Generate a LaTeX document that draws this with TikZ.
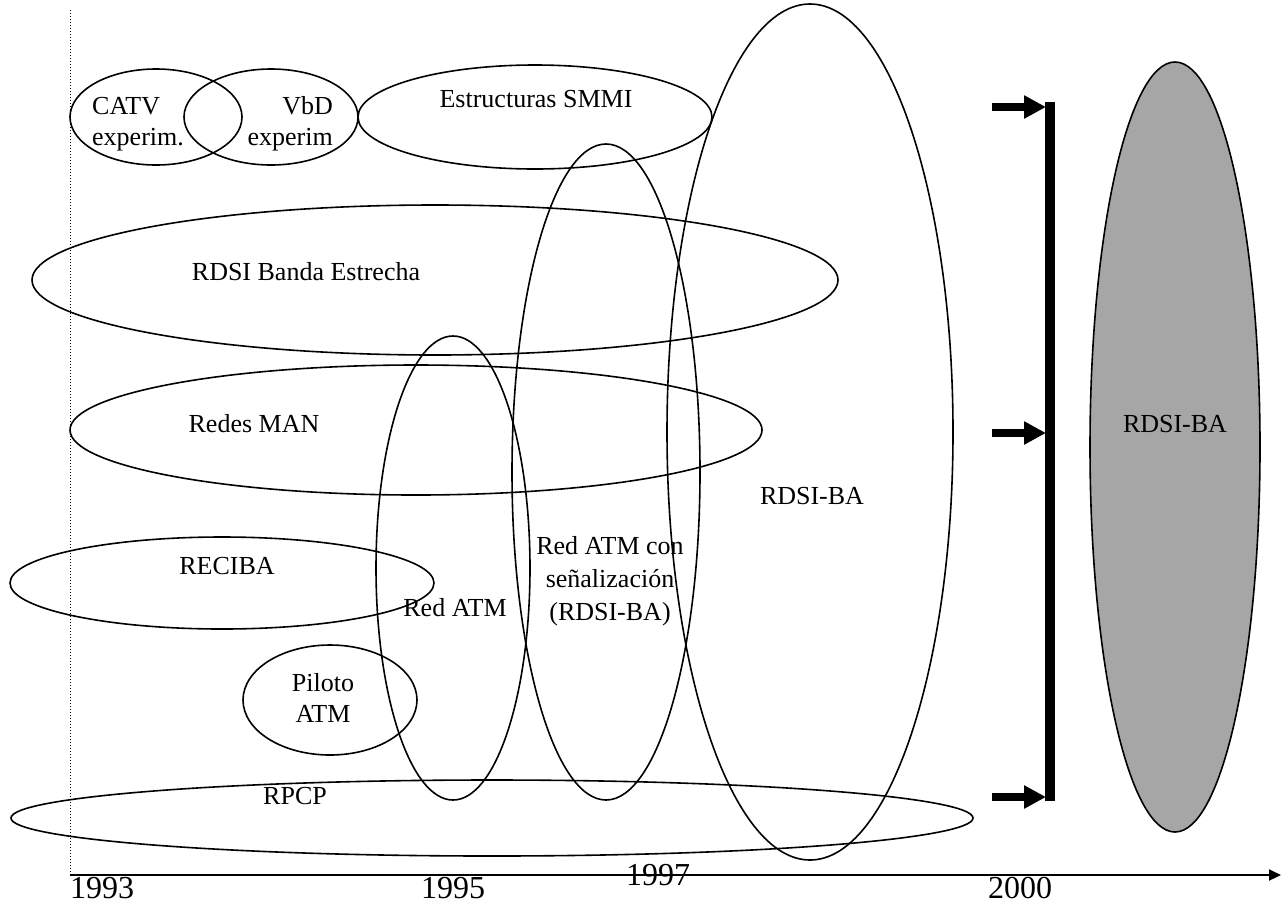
\documentclass[tikz,border=0pt]{standalone}
\usepackage{fontspec}
\setmainfont{Liberation Serif}
\usetikzlibrary{shapes.geometric,arrows.meta}
\begin{document}
\begin{tikzpicture}[x=1pt,y=-1pt,
  ell/.style={draw,ellipse,line width=1.6pt,inner sep=0pt},
  lbl/.style={font=\fontsize{26}{31}\selectfont,anchor=base,inner sep=0pt},
  yr/.style={font=\fontsize{32}{36}\selectfont,anchor=base,inner sep=0pt},
  bigarrow/.style={line width=7.5pt,-{Triangle[length=22pt,width=22pt]}},
  bracketbar/.style={line width=10pt},
]
\useasboundingbox (0,0) rectangle (1284,911);
% dotted guide and axis
\coordinate (dtop) at (70,10);
\coordinate (dbot) at (70,875);
\draw[dotted,line width=1pt] (dtop) -- (dbot);
\coordinate (axend) at (1281,875);
\draw[line width=2pt,-{Triangle[length=12pt,width=11pt]}] (dbot) -- (axend);
% ellipses
\node[ell,minimum width=172pt,minimum height=96pt] (catv) at (156,117) {};
\node[ell,minimum width=174pt,minimum height=96pt] (vbd) at (271,117) {};
\node[ell,minimum width=354pt,minimum height=104pt] (smmi) at (535,117) {};
\node[ell,minimum width=806pt,minimum height=150pt] (rdsibe) at (435,280) {};
\node[ell,minimum width=692pt,minimum height=130pt] (man) at (416,430) {};
\node[ell,minimum width=424pt,minimum height=92pt] (reciba) at (222,583) {};
\node[ell,minimum width=174pt,minimum height=110pt] (piloto) at (330,700) {};
\node[ell,minimum width=962pt,minimum height=76pt] (rpcp) at (492,818) {};
\node[ell,minimum width=154pt,minimum height=464pt] (redatm) at (453,568) {};
\node[ell,minimum width=188pt,minimum height=656pt] (redsen) at (606,472) {};
\node[ell,minimum width=286pt,minimum height=856pt] (rdsiba) at (810,432) {};
\node[ell,fill={rgb,255:red,166;green,166;blue,166},minimum width=170pt,minimum height=770pt] (gray) at (1175,447) {};
% labels (multi-line nodes: base anchor is on the last line)
\node[lbl,anchor=base west,align=left] (tcatv) at (92,145) {CATV\\experim.};
\node[lbl,anchor=base east,align=right] (tvbd) at (333,145) {VbD\\experim};
\node[lbl] (tsmmi) at (536,107) {Estructuras SMMI};
\node[lbl] (tbe) at (306,280) {RDSI Banda Estrecha};
\node[lbl] (tman) at (254,432) {Redes MAN};
\node[lbl] (treciba) at (227,574) {RECIBA};
\node[lbl,align=center,font=\fontsize{26}{31}\selectfont] (tpil) at (323,722) {Piloto\\ATM};
\node[lbl] (trpcp) at (295,804) {RPCP};
\node[lbl] (tratm) at (455,616) {Red ATM};
\node[lbl,align=center,font=\fontsize{26}{33}\selectfont] (tsen) at (610,620) {Red ATM con\\señalización\\(RDSI-BA)};
\node[lbl] (tba) at (812,504) {RDSI-BA};
\node[lbl] (tgray) at (1175,432) {RDSI-BA};
% years
\node[yr] (y93) at (102,898) {1993};
\node[yr] (y95) at (453,898) {1995};
\node[yr] (y97) at (658,885) {1997};
\node[yr] (y00) at (1020,898) {2000};
% bracket and arrows
\coordinate (btop) at (1050,102);
\coordinate (bbot) at (1050,801);
\draw[bracketbar] (btop) -- (bbot);
\coordinate (a1s) at (992,107);
\coordinate (a1e) at (1046,107);
\coordinate (a2s) at (992,433);
\coordinate (a2e) at (1046,433);
\coordinate (a3s) at (992,797);
\coordinate (a3e) at (1046,797);
\draw[bigarrow] (a1s) -- (a1e);
\draw[bigarrow] (a2s) -- (a2e);
\draw[bigarrow] (a3s) -- (a3e);
\end{tikzpicture}
\end{document}
